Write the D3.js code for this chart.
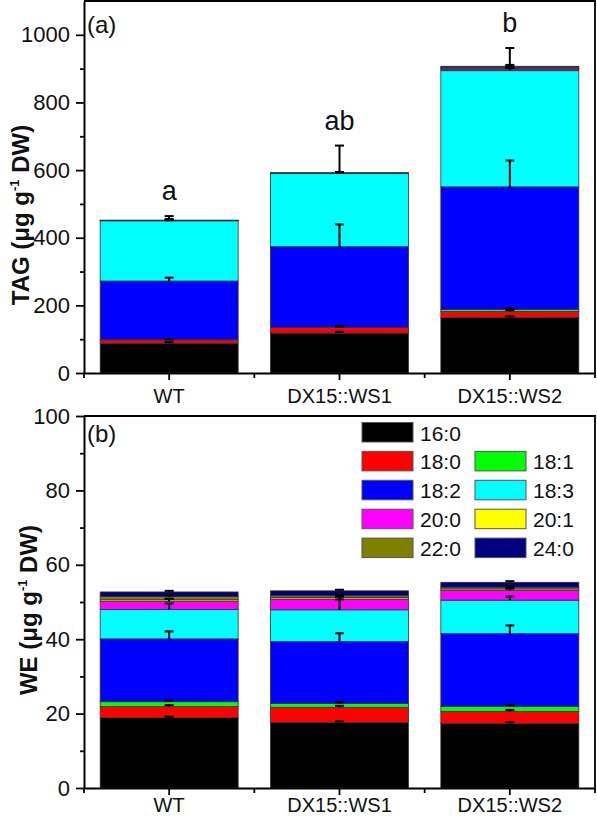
<!DOCTYPE html>
<html>
<head>
<meta charset="utf-8">
<script src="https://cdn.jsdelivr.net/npm/d3@7"></script>
<style>
    body { margin: 0; background: #fff; }
    svg text { font-family: "Liberation Sans", Arial, sans-serif; fill: #111; }
</style>
</head>
<body>
<div id="chart"></div>
<script>
// Categories and fatty acid series
const groups = ["WT", "DX15::WS1", "DX15::WS2"];
const fattyAcids = ["16:0", "18:0", "18:1", "18:2", "18:3", "20:0", "20:1", "22:0", "24:0"];
const faColors = ["#000000", "#ff0000", "#00ff00", "#0000ff", "#00ffff", "#ff00ff", "#ffff00", "#808000", "#000080"];

// (a) TAG, one array per genotype, in fattyAcids order
const tagWT = [88, 10, 1, 173, 178, 0.6, 0.3, 0.5, 0.6];
const tagWS1 = [118, 16.5, 1, 238, 216, 0.8, 0.3, 0.6, 1];
const tagWS2 = [164, 18, 6, 362.5, 343.5, 5, 1, 4, 3];
const tagErrWT = [3, 2, 1, 10, 14, 2, 1, 2, 3];
const tagErrWS1 = [4, 4, 2, 66, 83, 2, 1, 2, 2];
const tagErrWS2 = [4, 4, 3, 78, 67, 3, 2, 3, 4];
const tagLetters = ["a", "ab", "b"];
const tagTicks = [0, 200, 400, 600, 800, 1000];
const tagMinor = [100, 300, 500, 700, 900];

// (b) WE
const weWT = [18.9, 3.0, 1.3, 16.9, 7.9, 2.2, 0.4, 0.9, 1.2];
const weWS1 = [17.6, 4.1, 1.0, 16.7, 8.5, 2.9, 0.4, 0.5, 1.3];
const weWS2 = [17.3, 3.3, 1.3, 19.6, 9.0, 2.6, 0.4, 0.5, 1.3];
const weErrWT = [0.3, 0.4, 0.3, 2.0, 1.6, 0.6, 0.3, 0.3, 0.3];
const weErrWS1 = [0.3, 0.4, 0.4, 2.2, 2.8, 0.8, 0.3, 0.3, 0.3];
const weErrWS2 = [0.4, 0.4, 0.4, 2.2, 1.0, 0.5, 0.3, 0.3, 0.3];
const weTicks = [0, 20, 40, 60, 80, 100];
const weMinor = [10, 30, 50, 70, 90];

const width = 597;
const height = 816;

const svg = d3.select("#chart").append("svg")
    .attr("width", width)
    .attr("height", height);

class StackedPanel {
    constructor(opts) {
        this.o = opts;
        this.g = svg.append("g");

        // x: band per genotype, bars take 81% of it
        this.x = d3.scaleBand().domain(groups).range([84, 595]).padding(0);
        this.y = d3.scaleLinear().domain(opts.domain).range([opts.bottom, opts.top]);

        this.draw();
    }

    draw() {
        const o = this.o, x = this.x, y = this.y, g = this.g;
        const barW = x.bandwidth() * 0.81;

        const rows = groups.map((grp, i) => {
            const r = { group: grp };
            fattyAcids.forEach((fa, j) => { r[fa] = o.values[i][j]; });
            return r;
        });
        const series = d3.stack().keys(fattyAcids)(rows);

        // Bars
        series.forEach((s, j) => {
            g.selectAll(null)
                .data(s)
                .enter()
                .append("rect")
                .attr("x", d => x(d.data.group) + (x.bandwidth() - barW) / 2)
                .attr("width", barW)
                .attr("y", d => y(d[1]))
                .attr("height", d => y(d[0]) - y(d[1]))
                .attr("fill", faColors[j])
                .attr("stroke", "#333")
                .attr("stroke-width", 0.8);
        });

        // Error bars (upward only)
        const capW = 9;
        series.forEach((s, j) => {
            s.forEach((d, i) => {
                const cx = x(d.data.group) + x.bandwidth() / 2;
                const top = d[1] + o.errors[i][j];
                g.append("line")
                    .attr("x1", cx).attr("x2", cx)
                    .attr("y1", y(d[1])).attr("y2", y(top))
                    .attr("stroke", "#000").attr("stroke-width", 2);
                g.append("line")
                    .attr("x1", cx - capW / 2).attr("x2", cx + capW / 2)
                    .attr("y1", y(top)).attr("y2", y(top))
                    .attr("stroke", "#000").attr("stroke-width", 2);
            });
        });

        // Significance letters
        if (o.letters) {
            groups.forEach((grp, i) => {
                const peak = d3.max(series, (s, j) => s[i][1] + o.errors[i][j]);
                g.append("text")
                    .attr("x", x(grp) + x.bandwidth() / 2)
                    .attr("y", y(peak) - 16)
                    .attr("text-anchor", "middle")
                    .style("font-size", "27px")
                    .text(o.letters[i]);
            });
        }

        // Y axis, major + minor
        const yAxis = g.append("g")
            .attr("transform", "translate(84,0)")
            .call(d3.axisLeft(y).tickValues(o.ticks).tickFormat(d3.format("d"))
                .tickSize(8).tickSizeOuter(0).tickPadding(6));
        yAxis.select(".domain").attr("stroke-width", 2);
        yAxis.selectAll(".tick line").attr("stroke-width", 1.8);
        yAxis.selectAll("text").style("font-size", "22px").attr("fill", "#111");

        const yMinor = g.append("g")
            .attr("transform", "translate(84,0)")
            .call(d3.axisLeft(y).tickValues(o.minor).tickSize(4).tickFormat(""));
        yMinor.select(".domain").remove();
        yMinor.selectAll(".tick line").attr("stroke-width", 1.8);

        // X axis
        const xAxis = g.append("g")
            .attr("transform", `translate(0,${o.bottom})`)
            .call(d3.axisBottom(x).tickSize(7).tickSizeOuter(0).tickPadding(o.labelPad));
        xAxis.select(".domain").attr("stroke-width", 2);
        xAxis.selectAll(".tick line").attr("stroke-width", 1.8);
        xAxis.selectAll("text").style("font-size", "20px").attr("fill", "#111");

        // minor ticks at band edges
        const edges = [x.range()[0]].concat(groups.map(grp => x(grp) + x.bandwidth()));
        g.selectAll(null)
            .data(edges)
            .enter()
            .append("line")
            .attr("x1", d => d).attr("x2", d => d)
            .attr("y1", o.bottom).attr("y2", o.bottom + 5)
            .attr("stroke", "#000").attr("stroke-width", 1.8);

        // Frame: top and right
        g.append("path")
            .attr("d", `M84,${y(o.domain[1])}H595V${o.bottom}`)
            .attr("fill", "none")
            .attr("stroke", "#000")
            .attr("stroke-width", 1.8);

        // Panel tag
        g.append("text")
            .attr("x", 87)
            .attr("y", y(o.domain[1]) + o.tagDy)
            .style("font-size", "24px")
            .text(o.tag);

        // Y title
        const t = g.append("text")
            .attr("transform", `translate(${o.titleX},${o.titleY}) rotate(-90)`)
            .attr("text-anchor", "middle")
            .style("font-size", "24px")
            .style("font-weight", "bold");
        t.append("tspan").text(o.title + " (\u03bcg g");
        t.append("tspan").attr("dy", -10).style("font-size", "13px").text("-1");
        t.append("tspan").attr("dy", 10).text(" DW)");
    }
}

new StackedPanel({
    values: [tagWT, tagWS1, tagWS2],
    errors: [tagErrWT, tagErrWS1, tagErrWS2],
    letters: tagLetters,
    domain: [0, 1100],
    ticks: tagTicks,
    minor: tagMinor,
    top: 1,
    bottom: 373,
    labelPad: 9,
    tag: "(a)",
    tagDy: 32,
    title: "TAG",
    titleX: 29,
    titleY: 215
});

new StackedPanel({
    values: [weWT, weWS1, weWS2],
    errors: [weErrWT, weErrWS1, weErrWS2],
    letters: null,
    domain: [0, 100],
    ticks: weTicks,
    minor: weMinor,
    top: 416,
    bottom: 788,
    labelPad: 3,
    tag: "(b)",
    tagDy: 26,
    title: "WE",
    titleX: 37,
    titleY: 610
});

// Legend (panel b)
const legend = svg.append("g");
const swW = 51, swH = 19.5, rowH = 28.9;
fattyAcids.forEach((fa, i) => {
    const row = i === 0 ? 0 : Math.ceil(i / 2);
    const col = i === 0 ? 0 : (i - 1) % 2;
    const lx = 362 + col * 113;
    const ly = 422.5 + row * rowH;
    legend.append("rect")
        .attr("x", lx).attr("y", ly)
        .attr("width", swW).attr("height", swH)
        .attr("fill", faColors[i])
        .attr("stroke", "#555")
        .attr("stroke-width", 1);
    legend.append("text")
        .attr("x", lx + swW + 7)
        .attr("y", ly + 18)
        .style("font-size", "21px")
        .text(fa);
});
</script>
</body>
</html>
